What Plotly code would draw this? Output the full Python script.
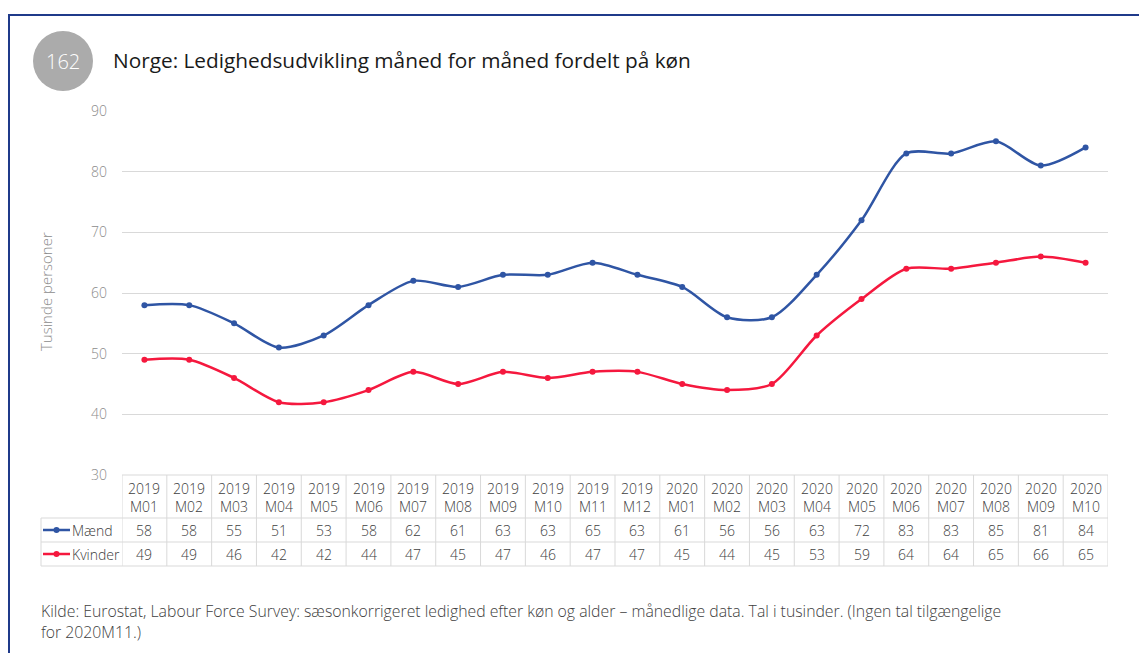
import plotly.graph_objects as go

maaneder = ['2019<br>M01', '2019<br>M02', '2019<br>M03', '2019<br>M04', '2019<br>M05', '2019<br>M06',
            '2019<br>M07', '2019<br>M08', '2019<br>M09', '2019<br>M10', '2019<br>M11', '2019<br>M12',
            '2020<br>M01', '2020<br>M02', '2020<br>M03', '2020<br>M04', '2020<br>M05', '2020<br>M06',
            '2020<br>M07', '2020<br>M08', '2020<br>M09', '2020<br>M10']
maend = [58, 58, 55, 51, 53, 58, 62, 61, 63, 63, 65, 63, 61, 56, 56, 63, 72, 83, 83, 85, 81, 84]
kvinder = [49, 49, 46, 42, 42, 44, 47, 45, 47, 46, 47, 47, 45, 44, 45, 53, 59, 64, 64, 65, 66, 65]

BLAA = '#2f55a4'
ROED = '#f5183e'
TXT = '#404040'
GRID = '#d9d9d9'
# page body adds an 8px margin, so figure coordinates are shifted
OFF = 8
W, H = 1147, 653
L, T = 122 - OFF, 111 - OFF
R = W - (1108 - OFF)
B = H - (475 - OFF)
PW, PH = W - L - R, H - T - B


def px_x(p):
    return (p - OFF - L) / PW


def px_y(p):
    return (H - B - (p - OFF)) / PH


x = list(range(len(maaneder)))

fig = go.Figure()
fig.add_trace(go.Scatter(x=x, y=maend, name='Mænd', mode='lines+markers',
                         line=dict(color=BLAA, width=2.5, shape='spline', smoothing=0.8),
                         marker=dict(size=6, color=BLAA)))
fig.add_trace(go.Scatter(x=x, y=kvinder, name='Kvinder', mode='lines+markers',
                         line=dict(color=ROED, width=2.5, shape='spline', smoothing=0.8),
                         marker=dict(size=6, color=ROED)))

shapes = []
annotations = []


def tekst(x, y, s, size=14, color=TXT, xref='paper', xanchor='center', weight=300, **kw):
    annotations.append(dict(x=x, y=y, xref=xref, yref='paper', text=s, showarrow=False,
                            xanchor=xanchor, yanchor=kw.pop('yanchor', 'middle'),
                            font=dict(size=size, color=color, weight=weight), **kw))


# rows of the data table (screen pixel positions)
y_top, y_hdr, y_m, y_k = 475, 518, 542, 566
line = dict(color=GRID, width=1)
shapes.append(dict(type='line', xref='x', yref='paper', x0=-0.5, x1=len(x) - 0.5,
                   y0=px_y(y_top), y1=px_y(y_top), line=line))
for yy in [y_hdr, y_m, y_k]:
    shapes.append(dict(type='line', xref='paper', yref='paper', x0=px_x(41), x1=1,
                       y0=px_y(yy), y1=px_y(yy), line=line))
for i in range(len(x) + 1):
    shapes.append(dict(type='line', xref='x', yref='paper', x0=i - 0.5, x1=i - 0.5,
                       y0=px_y(y_top), y1=px_y(y_k), line=line))
shapes.append(dict(type='line', xref='paper', yref='paper', x0=px_x(41), x1=px_x(41),
                   y0=px_y(y_hdr), y1=px_y(y_k), line=line))

for i, lab in enumerate(maaneder):
    tekst(i, px_y((y_top + y_hdr) / 2 + 1), lab, xref='x')
    tekst(i, px_y((y_hdr + y_m) / 2), str(maend[i]), xref='x')
    tekst(i, px_y((y_m + y_k) / 2), str(kvinder[i]), xref='x')

# legend keys in the table
for navn, farve, y0, y1 in [('Mænd', BLAA, y_hdr, y_m), ('Kvinder', ROED, y_m, y_k)]:
    yc = px_y((y0 + y1) / 2)
    shapes.append(dict(type='line', xref='paper', yref='paper', x0=px_x(43), x1=px_x(70),
                       y0=yc, y1=yc, line=dict(color=farve, width=2.5)))
    shapes.append(dict(type='circle', xref='paper', yref='paper', x0=px_x(53.5), x1=px_x(59.5),
                       y0=yc - 3 / PH, y1=yc + 3 / PH, fillcolor=farve, line=dict(color=farve, width=0)))
    tekst(px_x(70), yc, navn, xanchor='left')

# frame and number badge
shapes.append(dict(type='rect', xref='paper', yref='paper', x0=px_x(9), x1=px_x(1170),
                   y0=px_y(15), y1=px_y(700), line=dict(color='#1f3a8a', width=2)))
shapes.append(dict(type='circle', xref='paper', yref='paper', x0=px_x(33), x1=px_x(93),
                   y0=px_y(91), y1=px_y(31), fillcolor='#ababab', line=dict(width=0)))
tekst(px_x(63), px_y(61), '162', size=20, color='white')
tekst(px_x(111), px_y(60), 'Norge: Ledighedsudvikling måned for måned fordelt på køn',
      size=20.8, color='#1a1a1a', xanchor='left', weight=400)
tekst(px_x(46), px_y(292), 'Tusinde personer', size=15, color='#8c8c8c', textangle=-90)
tekst(px_x(39), px_y(598),
      'Kilde: Eurostat, Labour Force Survey: sæsonkorrigeret ledighed efter køn og alder – '
      'månedlige data. Tal i tusinder. (Ingen tal tilgængelige<br>for 2020M11.)',
      size=15.8, xanchor='left', yanchor='top', align='left')

fig.update_layout(
    width=W, height=H,
    margin=dict(l=L, r=R, t=T, b=B),
    paper_bgcolor='white', plot_bgcolor='white',
    font=dict(family='Open Sans', color=TXT),
    showlegend=False,
    shapes=shapes,
    annotations=annotations,
    xaxis=dict(range=[-0.5, len(x) - 0.5], showticklabels=False, showgrid=False, zeroline=False,
               showline=False, fixedrange=True),
    yaxis=dict(range=[30, 90], dtick=10, showgrid=True, gridcolor=GRID, zeroline=False,
               tickfont=dict(size=14, color='#8c8c8c', weight=300), ticklabelstandoff=14,
               fixedrange=True),
)

fig.write_html('out.html')
